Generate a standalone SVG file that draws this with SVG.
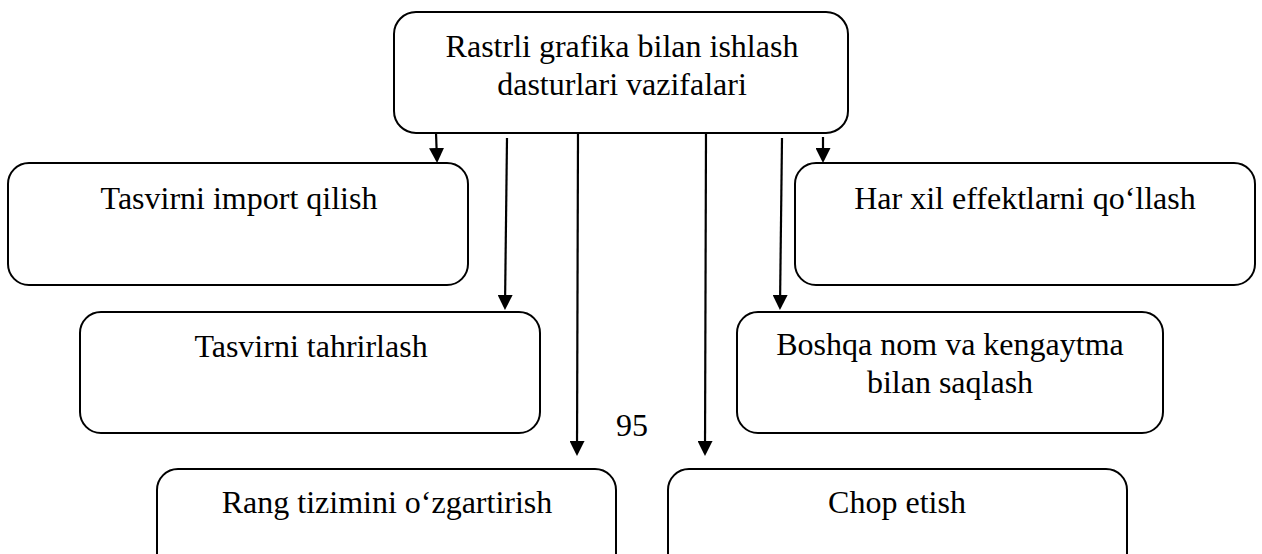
<svg xmlns="http://www.w3.org/2000/svg" width="1262" height="554" viewBox="0 0 1262 554">
<style>
.box{fill:#fff;stroke:#000;stroke-width:2}
.t{font-family:"Liberation Serif","Times New Roman",serif;font-size:32px;fill:#000;text-anchor:middle}
.c{stroke:#000;stroke-width:2.2;fill:none;marker-end:url(#ah)}
</style>
<defs>
<marker id="ah" viewBox="0 0 15 15" markerWidth="15" markerHeight="15" markerUnits="userSpaceOnUse" refX="12" refY="7.5" orient="auto">
<path d="M0,0 L15,7.5 L0,15 z" fill="#000"/>
</marker>
</defs>
<rect width="1262" height="554" fill="#fff"/>
<g id="n-main">
<rect class="box" x="394" y="12" width="454" height="121" rx="22"/>
<text class="t" x="622" y="57">Rastrli grafika bilan ishlash</text>
<text class="t" x="622" y="95">dasturlari vazifalari</text>
</g>
<g id="n-import">
<rect class="box" x="8" y="163" width="460" height="122" rx="21"/>
<text class="t" x="239" y="209">Tasvirni import qilish</text>
</g>
<g id="n-tahrir">
<rect class="box" x="80" y="312" width="460" height="121" rx="21"/>
<text class="t" x="311" y="357">Tasvirni tahrirlash</text>
</g>
<g id="n-effekt">
<rect class="box" x="795" y="163" width="460" height="122" rx="21"/>
<text class="t" x="1025" y="209">Har xil effektlarni qo‘llash</text>
</g>
<g id="n-saqlash">
<rect class="box" x="737" y="312" width="426" height="121" rx="21"/>
<text class="t" x="950" y="355">Boshqa nom va kengaytma</text>
<text class="t" x="950" y="393">bilan saqlash</text>
</g>
<g id="n-rang">
<rect class="box" x="157" y="469" width="459" height="110" rx="21"/>
<text class="t" x="387" y="513">Rang tizimini o‘zgartirish</text>
</g>
<g id="n-chop">
<rect class="box" x="668" y="469" width="459" height="110" rx="21"/>
<text class="t" x="897" y="513">Chop etish</text>
</g>
<text class="t" x="632" y="436">95</text>
<g id="connectors">
<line class="c" x1="436" y1="133" x2="437" y2="160"/>
<line class="c" x1="507" y1="138" x2="505" y2="307"/>
<line class="c" x1="578" y1="133" x2="577" y2="453"/>
<line class="c" x1="706" y1="133" x2="705" y2="453"/>
<line class="c" x1="782" y1="138" x2="780" y2="307"/>
<line class="c" x1="823" y1="137" x2="823" y2="160"/>
</g>
</svg>
